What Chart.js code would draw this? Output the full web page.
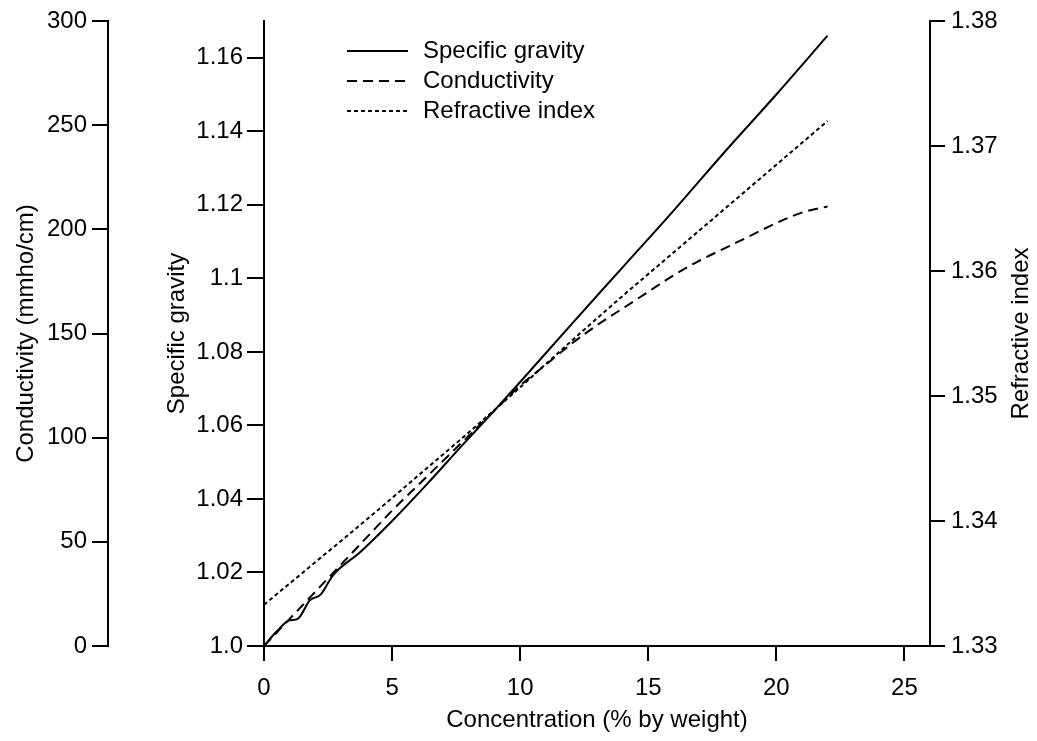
<!DOCTYPE html>
<html>
<head>
<meta charset="utf-8">
<script src="https://cdn.jsdelivr.net/npm/chart.js@4.4.1/dist/chart.umd.min.js"></script>
<style>
  html, body { margin: 0; padding: 0; background: #fff; }
  #wrap { width: 1037px; height: 741px; }
</style>
</head>
<body>
<div id="wrap"><canvas id="chart"></canvas></div>
<script>
// concentration (% by weight) for each curve
const sgConc = [0, 0.5, 1.0, 1.3, 1.8, 2.2, 2.7, 3.75, 5, 6.4, 7.7, 9, 10, 12, 14, 16, 18, 20, 22];
const sgValues = [1.0, 1.004, 1.007, 1.0073, 1.0125, 1.0139, 1.0193, 1.0255, 1.034, 1.0443, 1.0543, 1.0641, 1.0718, 1.0875, 1.103, 1.1185, 1.1345, 1.150, 1.166];

const condConc = [0, 1, 2, 3, 4, 5, 6, 7, 8, 9, 10, 11, 12, 13, 14, 15, 16, 17, 18, 19, 20, 21, 22];
const condValues = [0, 13, 26, 39, 52, 65, 77, 89, 101, 113, 125, 135, 145, 154, 162, 170, 178, 185, 191, 197, 203, 208, 211];

const riConc = [0, 2, 4, 6, 8, 10, 12, 14, 16, 18, 20, 22];
const riValues = [1.3333, 1.3367, 1.3401, 1.3436, 1.3471, 1.3507, 1.3544, 1.3580, 1.3615, 1.3650, 1.3685, 1.3720];

const seriesLabels = ['Specific gravity', 'Conductivity', 'Refractive index'];

const toPoints = (xs, ys) => xs.map((x, i) => ({ x: x, y: ys[i] }));

const font = { family: 'Liberation Sans, Arial, Helvetica, sans-serif', size: 24 };
const black = '#000';

// legend inside the plot + right title reading bottom-to-top
const extras = {
  id: 'extras',
  afterDraw(chart) {
    const ctx = chart.ctx;
    ctx.save();
    ctx.font = font.size + 'px ' + font.family;
    ctx.fillStyle = black;
    ctx.textBaseline = 'middle';
    chart.data.datasets.forEach((ds, i) => {
      const y = 51 + i * 30;
      ctx.beginPath();
      ctx.strokeStyle = black;
      ctx.lineWidth = 2;
      ctx.setLineDash(ds.borderDash || []);
      ctx.moveTo(347, y);
      ctx.lineTo(408, y);
      ctx.stroke();
      ctx.setLineDash([]);
      ctx.textAlign = 'left';
      ctx.fillText(ds.label, 423, y);
    });
    const area = chart.chartArea;
    ctx.translate(1021, (area.top + area.bottom) / 2);
    ctx.rotate(-Math.PI / 2);
    ctx.textAlign = 'center';
    ctx.fillText(chart.options.scales.yRI.title.text, 0, 0);
    ctx.restore();
  }
};

new Chart(document.getElementById('chart'), {
  type: 'line',
  data: {
    datasets: [
      {
        label: seriesLabels[0],
        data: toPoints(sgConc, sgValues),
        yAxisID: 'ySG',
        borderColor: black,
        borderWidth: 2,
        pointRadius: 0,
        cubicInterpolationMode: 'monotone'
      },
      {
        label: seriesLabels[1],
        data: toPoints(condConc, condValues),
        yAxisID: 'yC',
        borderColor: black,
        borderWidth: 2,
        borderDash: [10, 6],
        pointRadius: 0,
        cubicInterpolationMode: 'monotone'
      },
      {
        label: seriesLabels[2],
        data: toPoints(riConc, riValues),
        yAxisID: 'yRI',
        borderColor: black,
        borderWidth: 2,
        borderDash: [4, 3],
        pointRadius: 0,
        cubicInterpolationMode: 'monotone'
      }
    ]
  },
  options: {
    responsive: true,
    maintainAspectRatio: false,
    devicePixelRatio: 1,
    animation: false,
    layout: { padding: { top: 21, left: 0, right: 0, bottom: 0 } },
    plugins: { legend: { display: false }, tooltip: { enabled: false } },
    scales: {
      x: {
        type: 'linear',
        position: 'bottom',
        min: 0,
        max: 26,
        ticks: { stepSize: 5, includeBounds: false, color: black, font: font, padding: 13, maxRotation: 0 },
        grid: { drawOnChartArea: false, tickLength: 15, color: black, lineWidth: 2 },
        border: { color: black, width: 2 },
        title: { display: true, text: 'Concentration (% by weight)', color: black, font: font, padding: { top: 0, bottom: 6 } },
        afterFit: s => { s.height = 95; }
      },
      yC: {
        type: 'linear',
        position: 'left',
        weight: 1,
        min: 0,
        max: 300,
        ticks: { stepSize: 50, color: black, font: font, padding: 5 },
        grid: { drawOnChartArea: false, tickLength: 16, color: black, lineWidth: 2 },
        border: { color: black, width: 2 },
        title: { display: true, text: 'Conductivity (mmho/cm)', color: black, font: font, padding: { top: 12, bottom: 0 } },
        afterFit: s => { s.width = 108; }
      },
      ySG: {
        type: 'linear',
        position: 'left',
        weight: 0,
        min: 1.0,
        max: 1.17,
        ticks: {
          stepSize: 0.02,
          includeBounds: false,
          color: black,
          font: font,
          padding: 4,
          callback: v => (Math.abs(v - 1) < 1e-9 ? '1.0' : String(+v.toFixed(2)))
        },
        grid: { drawOnChartArea: false, tickLength: 17, color: black, lineWidth: 2 },
        border: { color: black, width: 2 },
        title: { display: true, text: 'Specific gravity', color: black, font: font, padding: { top: 55, bottom: 0 } },
        afterFit: s => { s.width = 156; }
      },
      yRI: {
        type: 'linear',
        position: 'right',
        min: 1.33,
        max: 1.38,
        ticks: { stepSize: 0.01, color: black, font: font, padding: 6, callback: v => v.toFixed(2) },
        grid: { drawOnChartArea: false, tickLength: 15, color: black, lineWidth: 2 },
        border: { color: black, width: 2 },
        title: { display: false, text: 'Refractive index' },
        afterFit: s => { s.width = 107; }
      }
    }
  },
  plugins: [extras]
});
</script>
</body>
</html>
